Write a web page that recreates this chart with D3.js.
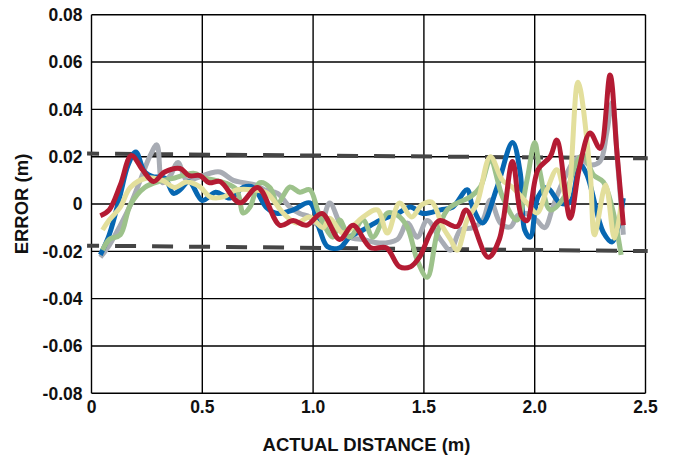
<!DOCTYPE html>
<html>
<head>
<meta charset="utf-8">
<script src="https://cdn.jsdelivr.net/npm/d3@7"></script>
<style>
  html, body { margin: 0; padding: 0; background: #fff; }
  text { font-family: "Liberation Sans", Arial, sans-serif; font-weight: bold; fill: #111; }
</style>
</head>
<body>
<div id="chart"></div>
<script>
// distance (m), error (m) pairs
const grayRun = [[0.04,-0.0225],[0.08,-0.0175],[0.13,-0.009],[0.175,-0.0005],[0.22,0.010],[0.265,0.0205],[0.295,0.025],[0.32,0.009],[0.355,0.012],[0.39,0.0175],[0.43,0.010],[0.475,0.011],[0.535,0.013],[0.58,0.0135],[0.64,0.010],[0.685,0.009],[0.74,0.008],[0.78,0.006],[0.84,0.0045],[0.895,-0.0013],[0.94,-0.004],[0.985,-0.0055],[1.03,-0.0095],[1.075,0.0004],[1.12,-0.008],[1.165,-0.014],[1.225,-0.015],[1.30,-0.0165],[1.38,-0.015],[1.425,-0.008],[1.47,-0.014],[1.515,-0.007],[1.575,-0.015],[1.62,-0.0195],[1.665,-0.011],[1.72,-0.010],[1.765,-0.007],[1.80,0.0017],[1.845,-0.008],[1.89,-0.0097],[1.925,-0.0047],[1.965,-0.004],[2.01,-0.007],[2.045,-0.010],[2.085,-0.0004],[2.135,0.011],[2.195,0.0195],[2.25,0.0165],[2.295,0.018],[2.325,0.030],[2.35,0.043],[2.375,0.0165],[2.40,-0.013]];

const blueRun = [[0.04,-0.0215],[0.08,-0.013],[0.13,0.004],[0.165,0.0165],[0.20,0.022],[0.24,0.0135],[0.28,0.0115],[0.33,0.011],[0.37,0.0045],[0.40,0.006],[0.44,0.0095],[0.50,0.0015],[0.56,0.005],[0.625,0.0025],[0.685,0.007],[0.73,0.007],[0.79,-0.0015],[0.84,-0.004],[0.91,-0.0025],[0.985,0.0005],[1.03,-0.011],[1.065,-0.018],[1.12,-0.0185],[1.165,-0.014],[1.225,-0.011],[1.30,-0.007],[1.38,-0.004],[1.44,-0.0013],[1.495,-0.004],[1.575,-0.0025],[1.63,-0.0013],[1.695,0.006],[1.72,-0.0013],[1.765,-0.008],[1.83,0.007],[1.90,0.026],[1.935,0.013],[1.955,-0.011],[1.98,-0.014],[2.015,0.003],[2.055,0.007],[2.115,0.0004],[2.16,0.0008],[2.205,0.0165],[2.235,0.0125],[2.31,-0.012],[2.35,-0.016],[2.40,0.0025]];

const greenRun = [[0.05,-0.0195],[0.08,-0.015],[0.13,-0.013],[0.175,-0.0004],[0.24,0.007],[0.31,0.0097],[0.375,0.011],[0.46,0.013],[0.51,0.011],[0.56,0.010],[0.60,0.009],[0.655,0.006],[0.685,-0.0038],[0.715,-0.0013],[0.76,0.009],[0.805,0.007],[0.84,0.0004],[0.895,0.0072],[0.94,0.005],[0.985,0.006],[1.02,-0.0025],[1.045,-0.008],[1.09,-0.014],[1.12,-0.0068],[1.165,-0.014],[1.225,-0.0068],[1.27,-0.014],[1.335,-0.0038],[1.38,-0.0047],[1.425,-0.0097],[1.47,-0.0237],[1.515,-0.031],[1.56,-0.0123],[1.605,-0.0025],[1.65,0.0004],[1.71,0.003],[1.755,0.0072],[1.80,0.0186],[1.855,0.003],[1.92,-0.0068],[1.965,0.010],[2.00,0.026],[2.025,0.013],[2.07,-0.0025],[2.13,0.0025],[2.19,0.0178],[2.22,0.0207],[2.265,0.0123],[2.31,0.0093],[2.35,-0.0017],[2.39,-0.0215]];

const yellowRun = [[0.05,-0.011],[0.08,-0.0068],[0.13,-0.0013],[0.175,0.007],[0.25,0.011],[0.32,0.010],[0.375,0.007],[0.43,0.0093],[0.49,0.0072],[0.535,0.003],[0.595,0.003],[0.655,0.006],[0.73,0.006],[0.79,0.0047],[0.865,-0.0038],[0.925,-0.008],[0.985,-0.0055],[1.045,-0.010],[1.075,-0.006],[1.135,-0.0123],[1.225,-0.0055],[1.29,-0.0025],[1.335,-0.0123],[1.39,0.0004],[1.445,-0.0055],[1.49,-0.0004],[1.535,0.0008],[1.585,-0.0097],[1.62,-0.015],[1.65,-0.0195],[1.695,-0.0068],[1.74,0.0004],[1.80,0.020],[1.855,0.010],[1.90,0.007],[1.965,0.0004],[2.01,-0.0038],[2.055,0.006],[2.10,0.0145],[2.145,0.0025],[2.195,0.0515],[2.25,0.0135],[2.27,-0.013],[2.32,0.008],[2.36,-0.0145],[2.39,-0.0004]];

const redRun = [[0.04,-0.005],[0.08,-0.0025],[0.13,0.008],[0.18,0.0205],[0.23,0.0145],[0.28,0.0095],[0.33,0.0135],[0.40,0.015],[0.44,0.012],[0.49,0.012],[0.53,0.009],[0.58,0.0095],[0.67,0.0005],[0.75,0.007],[0.85,-0.009],[0.91,-0.007],[0.97,-0.009],[1.04,-0.004],[1.12,-0.015],[1.18,-0.009],[1.26,-0.0185],[1.33,-0.0185],[1.39,-0.0265],[1.44,-0.0265],[1.48,-0.0225],[1.53,-0.012],[1.57,-0.007],[1.65,-0.0095],[1.69,-0.0025],[1.79,-0.0225],[1.84,-0.015],[1.90,0.018],[1.94,-0.005],[1.965,-0.007],[2.015,0.0145],[2.07,0.020],[2.10,0.027],[2.16,-0.006],[2.20,0.0145],[2.25,0.030],[2.295,0.0235],[2.34,0.0545],[2.37,0.023],[2.40,-0.009]];

// dashed limit lines: [x, y] at both ends
const upperLimit = [[-0.02, 0.0213], [2.51, 0.0193]];
const lowerLimit = [[-0.02, -0.0176], [2.51, -0.0199]];

const xTicks = [0, 0.5, 1.0, 1.5, 2.0, 2.5];
const xTickLabels = ["0", "0.5", "1.0", "1.5", "2.0", "2.5"];
const yTicks = [-0.08, -0.06, -0.04, -0.02, 0, 0.02, 0.04, 0.06, 0.08];
const yTickLabels = ["-0.08", "-0.06", "-0.04", "-0.02", "0", "0.02", "0.04", "0.06", "0.08"];

const width = 675, height = 459;
const margin = { top: 14.7, right: 29.5, bottom: 65.7, left: 91.5 };
const innerW = width - margin.left - margin.right;
const innerH = height - margin.top - margin.bottom;

const svg = d3.select("#chart").append("svg")
  .attr("width", width)
  .attr("height", height);

const g = svg.append("g")
  .attr("transform", `translate(${margin.left},${margin.top})`);

const x = d3.scaleLinear().domain([0, 2.5]).range([0, innerW]);
const y = d3.scaleLinear().domain([-0.08, 0.08]).range([innerH, 0]);

// grid
g.selectAll("line.vgrid")
  .data(xTicks)
  .enter().append("line")
  .attr("class", "vgrid")
  .attr("x1", d => x(d)).attr("x2", d => x(d))
  .attr("y1", 0).attr("y2", innerH)
  .attr("stroke", "#000").attr("stroke-width", 1.4);

g.selectAll("line.hgrid")
  .data(yTicks)
  .enter().append("line")
  .attr("class", "hgrid")
  .attr("x1", 0).attr("x2", innerW)
  .attr("y1", d => y(d)).attr("y2", d => y(d))
  .attr("stroke", "#000").attr("stroke-width", 1.4);

// tick labels
g.selectAll("text.ytick")
  .data(yTicks)
  .enter().append("text")
  .attr("class", "ytick")
  .attr("x", -9)
  .attr("y", d => y(d))
  .attr("dy", "0.36em")
  .attr("text-anchor", "end")
  .attr("font-size", 17.5)
  .text((d, i) => yTickLabels[i]);

g.selectAll("text.xtick")
  .data(xTicks)
  .enter().append("text")
  .attr("class", "xtick")
  .attr("x", d => x(d))
  .attr("y", innerH + 20)
  .attr("text-anchor", "middle")
  .attr("font-size", 17.5)
  .text((d, i) => xTickLabels[i]);

// axis titles
svg.append("text")
  .attr("x", margin.left + innerW / 2 - 2)
  .attr("y", 451)
  .attr("text-anchor", "middle")
  .attr("font-size", 18.5)
  .text("ACTUAL DISTANCE (m)");

svg.append("text")
  .attr("transform", `translate(28,${margin.top + innerH / 2}) rotate(-90)`)
  .attr("text-anchor", "middle")
  .attr("font-size", 18.5)
  .text("ERROR (m)");

// limit lines
const straight = d3.line().x(d => x(d[0])).y(d => y(d[1]));
[upperLimit, lowerLimit].forEach(seg => {
  g.append("path")
    .attr("d", straight(seg))
    .attr("fill", "none")
    .attr("stroke", "#454545")
    .attr("stroke-width", 4)
    .attr("stroke-dasharray", "21,16")
    .attr("stroke-dashoffset", 9);
});

// runs
const smooth = d3.line()
  .x(d => x(d[0]))
  .y(d => y(d[1]))
  .curve(d3.curveCatmullRom.alpha(0.5));

const runs = [
  { data: grayRun, color: "#a8acb4" },
  { data: blueRun, color: "#0767b2" },
  { data: greenRun, color: "#9dc28b" },
  { data: yellowRun, color: "#e3df9c" },
  { data: redRun, color: "#b41b33" }
];

runs.forEach(r => {
  g.append("path")
    .attr("d", smooth(r.data))
    .attr("fill", "none")
    .attr("stroke", r.color)
    .attr("stroke-width", 5)
    .attr("stroke-linejoin", "round")
    .attr("stroke-linecap", "butt");
});
</script>
</body>
</html>
